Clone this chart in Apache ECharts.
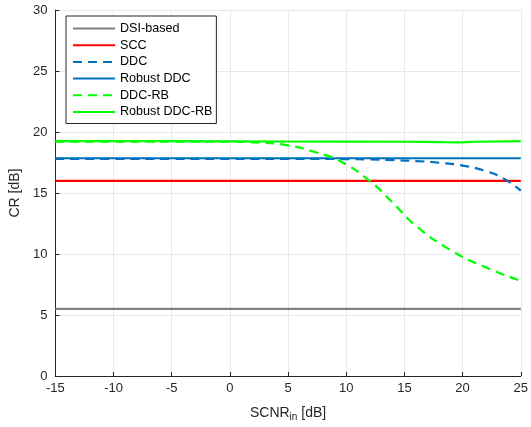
<!DOCTYPE html>
<html><head><meta charset="utf-8">
<script src="https://cdn.jsdelivr.net/npm/echarts@6/dist/echarts.min.js"></script>
<style>html,body{margin:0;padding:0;background:#fff}#c{width:531px;height:427px}</style>
</head><body><div id="c"></div>
<script>
const xFull = [-15, 25];
const dsiY = [5.5, 5.5];
const sccY = [16.0, 16.0];
const robustDdcY = [17.85, 17.85];
const ddcX = [-15, -10, -5, 0, 5, 10, 12, 14, 16, 18, 20, 22, 23.5, 25];
const ddcY = [17.8, 17.8, 17.8, 17.8, 17.8, 17.78, 17.75, 17.7, 17.62, 17.48, 17.25, 16.8, 16.2, 15.2];
const ddcRbX = [-15, -10, -5, 0, 2, 5, 7.5, 9.5, 12, 14, 16, 19, 22, 25];
const ddcRbY = [19.2, 19.2, 19.2, 19.2, 19.15, 18.9, 18.3, 17.6, 16.0, 14.2, 12.3, 10.3, 8.9, 7.8];
const robustRbX = [-15, -5, 5, 15, 18, 19.5, 21, 25];
const robustRbY = [19.25, 19.25, 19.22, 19.2, 19.17, 19.15, 19.2, 19.25];
const xTicks = [-15, -10, -5, 0, 5, 10, 15, 20, 25];
const yTicks = [0, 5, 10, 15, 20, 25, 30];

const pairs = (xs, ys) => xs.map((x, i) => [x, ys[i]]);
const chart = echarts.init(document.getElementById('c'));
const mk = (name, data, color, type, smooth) => ({
  name, type: 'line', data, symbol: 'none', smooth: smooth || false,
  lineStyle: { color, width: 2.2, type: type || 'solid' }, itemStyle: { color },
  animation: false
});
chart.setOption({
  animation: false,
  grid: { left: 54, right: 8, top: 10, bottom: 47 },
  xAxis: {
    type: 'value', min: -15, max: 25, interval: 5,
    name: '{a|SCNR}{s|in}{a| [dB]}', nameLocation: 'middle', nameGap: 28,
    nameTextStyle: { rich: { a: { fontSize: 14, color: '#262626', fontFamily: 'Liberation Sans' }, s: { fontSize: 10, color: '#262626', verticalAlign: 'bottom', padding: [8, 0, 0, 0], fontFamily: 'Liberation Sans' } } },
    axisLine: { onZero: false, lineStyle: { color: '#262626', width: 1 } },
    axisTick: { inside: true, length: 4, lineStyle: { color: '#262626' } },
    axisLabel: { color: '#262626', fontSize: 13, fontFamily: 'Liberation Sans', margin: 6 },
    splitLine: { show: true, lineStyle: { color: '#e8e8e8', width: 1 } }
  },
  yAxis: {
    type: 'value', min: 0, max: 30, interval: 5,
    name: 'CR [dB]', nameLocation: 'middle', nameGap: 25,
    nameTextStyle: { fontSize: 14, color: '#262626', fontFamily: 'Liberation Sans' },
    axisLine: { show: true, onZero: false, lineStyle: { color: '#262626', width: 1 } },
    axisTick: { show: true, inside: true, length: 4, lineStyle: { color: '#262626' } },
    axisLabel: { color: '#262626', fontSize: 13, fontFamily: 'Liberation Sans', margin: 8 },
    splitLine: { show: true, lineStyle: { color: '#e8e8e8', width: 1 } }
  },
  legend: {
    left: 66, top: 16, orient: 'vertical', itemGap: 3.7, itemWidth: 42, itemHeight: 13,
    padding: [6, 4, 5, 6],
    backgroundColor: '#fff', borderColor: '#262626', borderWidth: 1,
    itemStyle: { opacity: 0 },
    textStyle: { fontSize: 12.6, color: '#000', fontFamily: 'Liberation Sans' },
    data: ['DSI-based', 'SCC', 'DDC', 'Robust DDC', 'DDC-RB', 'Robust DDC-RB']
  },
  series: [
    mk('DSI-based', pairs(xFull, dsiY), '#808080'),
    mk('SCC', pairs(xFull, sccY), '#ff0000'),
    mk('DDC', pairs(ddcX, ddcY), '#0072BD', [9, 6], true),
    mk('Robust DDC', pairs(xFull, robustDdcY), '#0072BD'),
    mk('DDC-RB', pairs(ddcRbX, ddcRbY), '#00ff00', [9, 6], true),
    mk('Robust DDC-RB', pairs(robustRbX, robustRbY), '#00ff00', 'solid', true)
  ]
});
</script></body></html>
